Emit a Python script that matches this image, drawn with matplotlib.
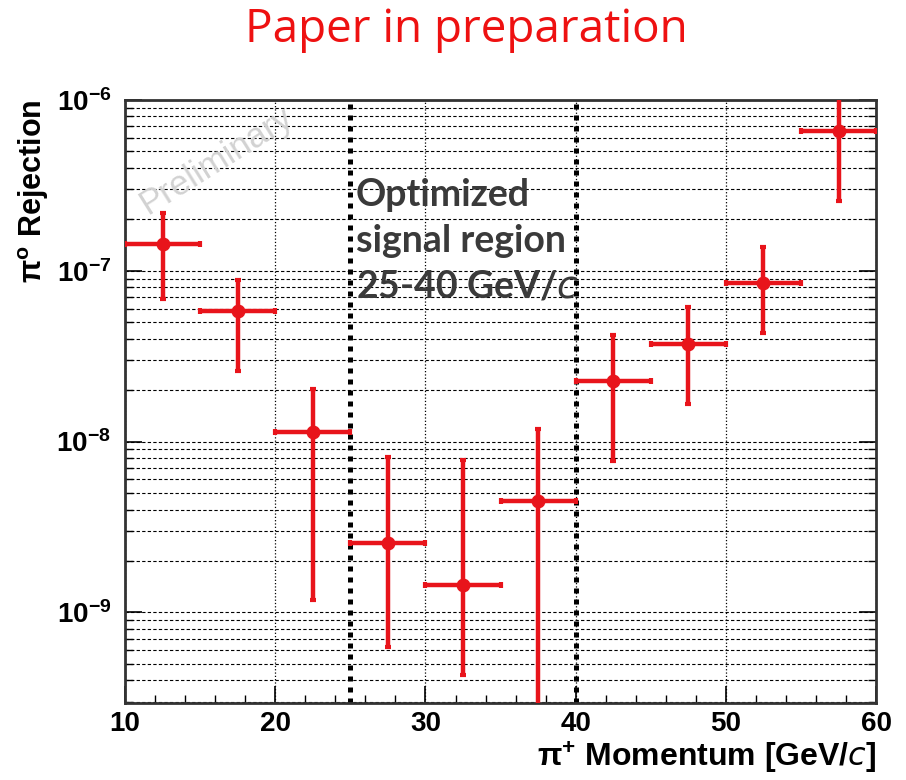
import numpy as np
import matplotlib
matplotlib.use("Agg")
import matplotlib.pyplot as plt
from matplotlib.ticker import LogLocator, MultipleLocator, NullFormatter

# bin centres and half widths [GeV/c]
p_center = [12.5, 17.5, 22.5, 27.5, 32.5, 37.5, 42.5, 47.5, 52.5, 57.5]
p_halfwidth = [2.5] * 10
# pi0 rejection and asymmetric errors
rejection = [1.43e-7, 5.8e-8, 1.14e-8, 2.55e-9, 1.45e-9, 4.5e-9, 2.26e-8, 3.7e-8, 8.5e-8, 6.55e-7]
err_high = [2.17e-7, 8.85e-8, 2.02e-8, 8.1e-9, 7.8e-9, 1.19e-8, 4.2e-8, 6.1e-8, 1.38e-7, 1.3e-6]
err_low = [6.8e-8, 2.6e-8, 1.18e-9, 6.3e-10, 4.3e-10, 1.5e-10, 7.7e-9, 1.65e-8, 4.3e-8, 2.55e-7]
region_edges = [25, 40]

rej = np.array(rejection)
yerr = [rej - np.array(err_low), np.array(err_high) - rej]

plt.rcParams['font.family'] = ['Liberation Sans', 'DejaVu Sans']
plt.rcParams['mathtext.default'] = 'regular'
fig = plt.figure(figsize=(9.06, 7.8), dpi=100)
ax = fig.add_axes([0.138, 0.099, 0.829, 0.773])

ax.set_yscale('log')
ax.set_xlim(10, 60)
ax.set_ylim(2.96e-10, 1e-6)

ax.grid(True, axis='x', which='major', color='black', linestyle=':', linewidth=0.9)
ax.grid(True, axis='y', which='both', color='black', linestyle='--', linewidth=0.8, dashes=(3, 2))
ax.set_axisbelow(True)

for xe in region_edges:
    ax.axvline(xe, color='black', linestyle=(0, (1, 1.2)), linewidth=3.6, zorder=2)

ax.errorbar(p_center, rejection, xerr=p_halfwidth, yerr=yerr, fmt='o',
            color='#e8141b', ecolor='#e8141b', markersize=9, elinewidth=3.2,
            capsize=2, capthick=3, zorder=4)

ax.xaxis.set_major_locator(MultipleLocator(10))
ax.xaxis.set_minor_locator(MultipleLocator(2))
ax.yaxis.set_major_locator(LogLocator(base=10, numticks=10))
ax.yaxis.set_minor_locator(LogLocator(base=10, subs=np.arange(2, 10), numticks=20))
ax.yaxis.set_minor_formatter(NullFormatter())
ax.xaxis.get_offset_text().set_visible(False)
ax.yaxis.get_offset_text().set_visible(False)
ax.tick_params(axis='both', which='both', direction='in', top=False, right=True)
ax.tick_params(axis='both', which='major', labelsize=20, length=12, width=1.2)
ax.tick_params(axis='x', which='major', pad=6)
ax.tick_params(axis='y', which='major', pad=10)
ax.tick_params(axis='both', which='minor', length=6, width=1)
for lab in ax.get_xticklabels() + ax.get_yticklabels():
    lab.set_fontweight('bold')
for s in ax.spines.values():
    s.set_linewidth(2)
    s.set_color('#333333')

ax.set_ylabel(r'$\pi^{o}$ Rejection', fontsize=22, fontweight='bold', loc='top', labelpad=4)
ax.set_xlabel(r'$\pi^{+}$ Momentum [GeV/$\mathit{c}$]', fontsize=23, fontweight='bold',
              loc='right', labelpad=2)

ax.text(25.35, 3.5e-7, 'Optimized\nsignal region\n25-40 GeV/$\\mathit{c}$', fontsize=27,
        fontweight='bold', color='#3a3a3a', family=['Lato', 'DejaVu Sans'],
        linespacing=1.42, va='top', ha='left', zorder=5)

ax.text(10.6, 1.95e-7, 'Preliminary', fontsize=25, color='#d2d2d2', rotation=32,
        ha='left', va='bottom', zorder=1)

fig.text(0.515, 0.962, 'Paper in preparation', fontsize=33, color='#ee1111',
         ha='center', va='center', family=['Open Sans', 'DejaVu Sans'])

fig.savefig('out.png', dpi=100)
